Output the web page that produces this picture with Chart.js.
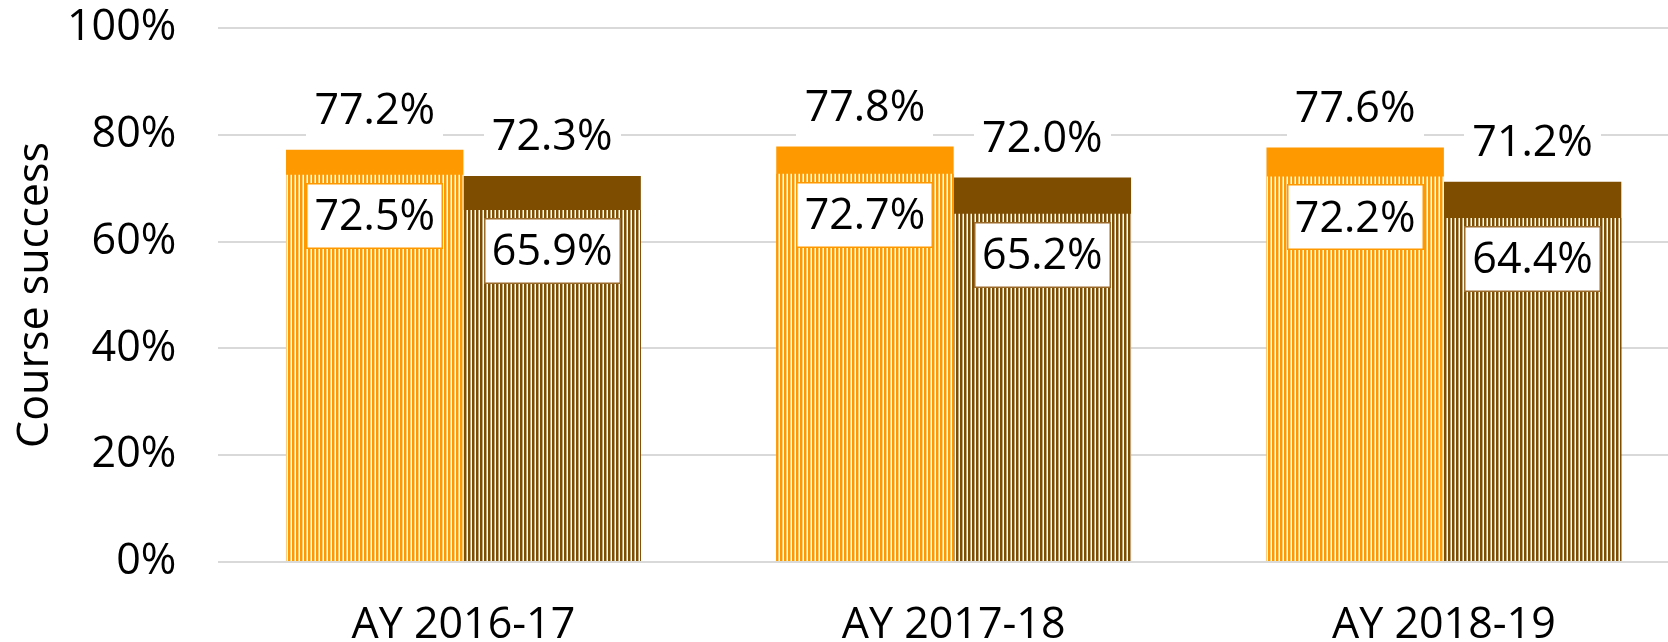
<!DOCTYPE html>
<html>
<head>
<meta charset="utf-8">
<script src="https://cdn.jsdelivr.net/npm/chart.js@4.4.1/dist/chart.umd.min.js"></script>
<style>
  html, body { margin: 0; padding: 0; background: #fff; overflow: hidden; }
  #wrap { position: relative; width: 1689px; height: 642px; }
</style>
</head>
<body>
<div id="wrap"><canvas id="c"></canvas></div>
<script>
const categories = ['AY 2016-17', 'AY 2017-18', 'AY 2018-19'];
const orangeTotal = [77.2, 77.8, 77.6];
const orangeInner = [72.5, 72.7, 72.2];
const brownTotal = [72.3, 72.0, 71.2];
const brownInner = [65.9, 65.2, 64.4];
const yTicks = [0, 20, 40, 60, 80, 100];

const ORANGE = '#FF9900';
const BROWN = '#7F4D00';
const FONT = '"Open Sans", "Noto Sans", sans-serif';

function stripes(color) {
  const c = document.createElement('canvas');
  c.width = 4; c.height = 4;
  const x = c.getContext('2d');
  x.fillStyle = '#ffffff';
  x.fillRect(0, 0, 4, 4);
  x.fillStyle = color;
  x.fillRect(0, 0, 2.5, 4);
  return x.createPattern(c, 'repeat');
}

const boxLabels = {
  id: 'boxLabels',
  afterDatasetsDraw(chart) {
    const ctx = chart.ctx;
    ctx.save();
    ctx.font = '43px ' + FONT;
    ctx.textAlign = 'center';
    ctx.textBaseline = 'middle';
    chart.data.datasets.forEach((ds, di) => {
      const meta = chart.getDatasetMeta(di);
      meta.data.forEach((bar, i) => {
        const text = ds.data[i].toFixed(1) + '%';
        const w = 137, h = 66;
        const cy = ds.labelPos === 'above' ? bar.y - 40 : bar.y + 41;
        const x0 = Math.round(bar.x - w / 2), y0 = Math.round(cy - h / 2);
        ctx.fillStyle = '#ffffff';
        ctx.fillRect(x0, y0, w, h);
        if (ds.labelPos !== 'above') {
          ctx.strokeStyle = ds.labelBorder;
          ctx.lineWidth = 1.5;
          ctx.strokeRect(x0 + 0.75, y0 + 0.75, w - 1.5, h - 1.5);
        }
        ctx.fillStyle = '#000000';
        ctx.fillText(text, bar.x, cy + 2);
      });
    });
    ctx.restore();
  }
};

new Chart(document.getElementById('c'), {
  type: 'bar',
  data: {
    labels: categories,
    datasets: [
      { data: orangeInner, stack: 'o', order: 1, backgroundColor: stripes(ORANGE), labelPos: 'inside', labelBorder: ORANGE },
      { data: brownInner, stack: 'b', order: 1, backgroundColor: stripes(BROWN), labelPos: 'inside', labelBorder: '#9a6a2a' },
      { data: orangeTotal, stack: 'o', order: 2, backgroundColor: ORANGE, labelPos: 'above' },
      { data: brownTotal, stack: 'b', order: 2, backgroundColor: BROWN, labelPos: 'above' }
    ]
  },
  options: {
    responsive: true,
    maintainAspectRatio: false,
    animation: false,
    events: [],
    layout: { padding: { top: 28, left: 0, right: 0, bottom: 0 } },
    datasets: { bar: { categoryPercentage: 0.7238, barPercentage: 1.0, borderWidth: 0 } },
    plugins: { legend: { display: false }, tooltip: { enabled: false } },
    scales: {
      x: {
        stacked: true,
        grid: { display: false },
        border: { display: false },
        ticks: { color: '#000', font: { family: FONT, size: 43 }, padding: 30 },
        afterFit(s) { s.height = 80; s.paddingLeft = 0; s.paddingRight = 0; }
      },
      y: {
        stacked: false,
        min: 0, max: 100,
        afterBuildTicks(s) { s.ticks = yTicks.map(v => ({ value: v })); },
        grid: { color: '#d9d9d9', lineWidth: 2, drawTicks: false },
        border: { display: false },
        ticks: { color: '#000', font: { family: FONT, size: 43 }, padding: 42, callback: v => v + '%' },
        title: { display: true, text: 'Course success', color: '#000', font: { family: FONT, size: 43 }, padding: { top: 10, bottom: 0 } },
        afterFit(s) { s.width = 218.3; s.paddingTop = 0; s.paddingBottom = 0; }
      }
    }
  },
  plugins: [boxLabels]
});
</script>
</body>
</html>
